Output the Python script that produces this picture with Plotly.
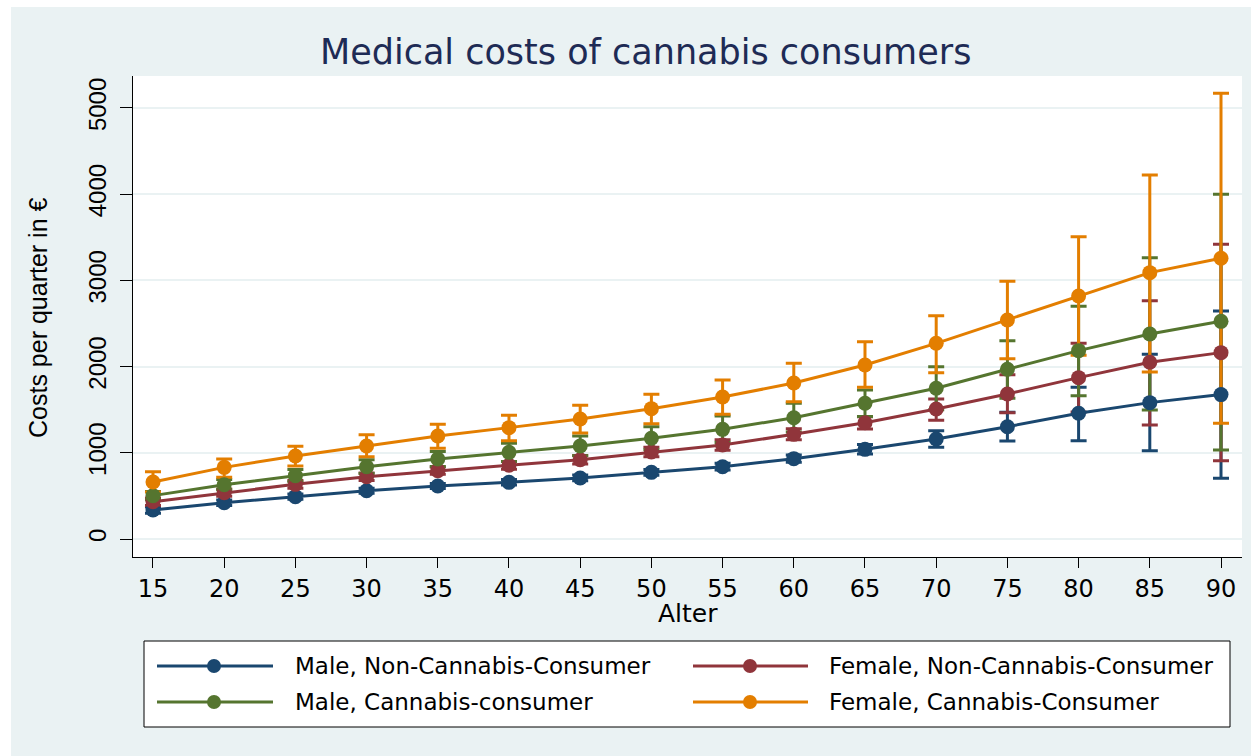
import plotly.graph_objects as go

# ---------------- data ----------------
ages = [15, 20, 25, 30, 35, 40, 45, 50, 55, 60, 65, 70, 75, 80, 85, 90]

series_names = ["Male, Non-Cannabis-Consumer", "Female, Non-Cannabis-Consumer",
                "Male, Cannabis-consumer", "Female, Cannabis-Consumer"]

male_non_mean = [336, 421, 491, 560, 615, 657, 708, 773, 839, 932, 1040, 1160, 1303, 1458, 1582, 1675]
male_non_lo = [300, 390, 460, 530, 585, 625, 675, 740, 800, 890, 985, 1063, 1137, 1141, 1025, 704]
male_non_hi = [372, 452, 522, 590, 645, 689, 741, 806, 878, 974, 1095, 1257, 1469, 1760, 2142, 2645]

female_non_mean = [433, 537, 634, 723, 793, 855, 920, 1009, 1090, 1214, 1349, 1508, 1682, 1872, 2050, 2162]
female_non_lo = [390, 495, 590, 680, 750, 810, 870, 955, 1030, 1150, 1276, 1377, 1466, 1474, 1323, 909]
female_non_hi = [476, 579, 678, 766, 836, 900, 970, 1063, 1150, 1278, 1419, 1624, 1906, 2270, 2765, 3419]

male_can_mean = [503, 630, 735, 839, 928, 1005, 1079, 1168, 1272, 1407, 1574, 1748, 1969, 2185, 2378, 2525]
male_can_lo = [455, 570, 665, 760, 840, 900, 965, 1035, 1120, 1240, 1420, 1500, 1632, 1663, 1497, 1032]
male_can_hi = [550, 690, 805, 918, 1015, 1110, 1195, 1303, 1427, 1574, 1728, 1999, 2301, 2699, 3264, 3999]

female_can_mean = [661, 831, 963, 1079, 1195, 1292, 1392, 1512, 1647, 1810, 2019, 2270, 2541, 2819, 3090, 3256]
female_can_lo = [545, 716, 847, 955, 1052, 1141, 1230, 1338, 1446, 1593, 1760, 1930, 2092, 2131, 1937, 1342]
female_can_hi = [781, 928, 1075, 1210, 1330, 1435, 1551, 1679, 1845, 2038, 2289, 2591, 2989, 3507, 4223, 5170]

x_ticks = [15, 20, 25, 30, 35, 40, 45, 50, 55, 60, 65, 70, 75, 80, 85, 90]
y_ticks = [0, 1000, 2000, 3000, 4000, 5000]

# ---------------- style ----------------
colors = ["#1A476F", "#90353B", "#55752F", "#E37E00"]
BG = "#EAF2F3"
W, H = 1251, 756
L, R, T, B = 133, 1242, 76, 557


def px(x):
    return (x - L) / (R - L)


def py(y):
    return (B - y) / (B - T)


means = [male_non_mean, female_non_mean, male_can_mean, female_can_mean]
los = [male_non_lo, female_non_lo, male_can_lo, female_can_lo]
his = [male_non_hi, female_non_hi, male_can_hi, female_can_hi]

fig = go.Figure()

# error bars (drawn first, beneath lines/markers)
for m, lo, hi, c in zip(means, los, his, colors):
    fig.add_trace(go.Scatter(
        x=ages, y=m, mode="markers",
        marker=dict(size=1, color="rgba(0,0,0,0)"),
        error_y=dict(type="data", symmetric=False,
                     array=[h - v for h, v in zip(hi, m)],
                     arrayminus=[v - l for l, v in zip(lo, m)],
                     color=c, thickness=3, width=8),
        showlegend=False, hoverinfo="skip"))

# connected lines
for m, c, n in zip(means, colors, series_names):
    fig.add_trace(go.Scatter(
        x=ages, y=m, mode="lines+markers", name=n,
        line=dict(color=c, width=3),
        marker=dict(color=c, size=15, line=dict(width=0)),
        showlegend=False))

shapes = []
annotations = []

# outer white frame strips
shapes.append(dict(type="rect", xref="paper", yref="paper",
                   x0=px(0), x1=px(W), y0=py(7), y1=py(0),
                   fillcolor="white", line=dict(width=0), layer="above"))
shapes.append(dict(type="rect", xref="paper", yref="paper",
                   x0=px(0), x1=px(11), y0=py(H), y1=py(0),
                   fillcolor="white", line=dict(width=0), layer="above"))

# manual legend
shapes.append(dict(type="rect", xref="paper", yref="paper",
                   x0=px(144), x1=px(1230), y0=py(727), y1=py(641),
                   fillcolor="white", line=dict(color="black", width=1), layer="above"))
leg_pos = [(157, 273, 214, 293, 666), (693, 808, 750, 827, 666),
           (157, 273, 214, 293, 702), (693, 808, 750, 827, 702)]
for (lx0, lx1, mx, tx, ly), c, n in zip(leg_pos, colors, series_names):
    shapes.append(dict(type="line", xref="paper", yref="paper",
                       x0=px(lx0), x1=px(lx1), y0=py(ly), y1=py(ly),
                       line=dict(color=c, width=3), layer="above"))
    shapes.append(dict(type="circle", xref="paper", yref="paper",
                       x0=px(mx - 7), x1=px(mx + 7), y0=py(ly + 7), y1=py(ly - 7),
                       fillcolor=c, line=dict(width=0), layer="above"))
    annotations.append(dict(text=n, xref="paper", yref="paper",
                            x=px(tx), y=py(ly), xanchor="left", yanchor="middle",
                            showarrow=False,
                            font=dict(family="DejaVu Sans", size=23, color="black")))

# title
annotations.append(dict(text="Medical costs of cannabis consumers", xref="paper", yref="paper",
                        x=px(645), y=py(52), xanchor="center", yanchor="middle",
                        showarrow=False,
                        font=dict(family="DejaVu Sans", size=35, color="#1E2B55")))
# axis titles
annotations.append(dict(text="Alter", xref="paper", yref="paper",
                        x=px(688), y=py(613), xanchor="center", yanchor="middle",
                        showarrow=False,
                        font=dict(family="DejaVu Sans", size=25, color="black")))
annotations.append(dict(text="Costs per quarter in €", xref="paper", yref="paper",
                        x=px(38), y=py(318), xanchor="center", yanchor="middle",
                        textangle=-90, showarrow=False,
                        font=dict(family="Liberation Sans", size=25, color="black")))

fig.update_layout(
    width=W, height=H, autosize=False,
    margin=dict(l=L, r=W - R, t=T, b=H - B, pad=0),
    paper_bgcolor=BG, plot_bgcolor="white",
    showlegend=False,
    shapes=shapes, annotations=annotations,
    xaxis=dict(range=[13.596, 91.475], tickvals=x_ticks, ticktext=[str(v) for v in x_ticks],
               showgrid=False, zeroline=False, showline=True, linecolor="black", linewidth=1,
               ticks="outside", ticklen=10, tickwidth=1, tickcolor="black",
               ticklabelstandoff=0,
               tickfont=dict(family="DejaVu Sans", size=24, color="black")),
    yaxis=dict(range=[-208.8, 5371], tickvals=y_ticks, ticktext=[str(v) for v in y_ticks],
               showgrid=True, gridcolor=BG, gridwidth=2, zeroline=False,
               showline=True, linecolor="black", linewidth=1,
               ticks="outside", ticklen=12, tickwidth=1, tickcolor="black", tickangle=-90,
               ticklabelstandoff=4,
               tickfont=dict(family="Liberation Sans", size=24, color="black")),
)

fig.write_html("out.html")
